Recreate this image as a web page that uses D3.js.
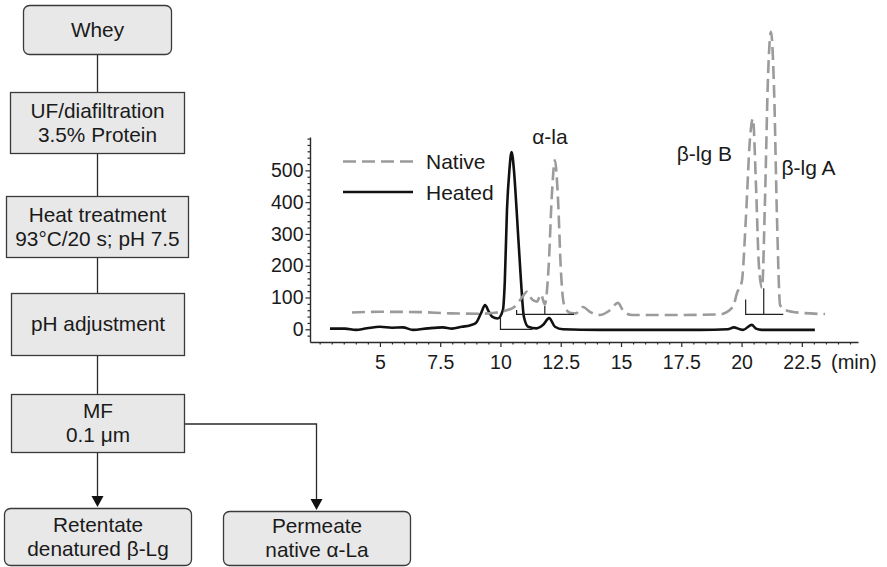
<!DOCTYPE html>
<html>
<head>
<meta charset="utf-8">
<script src="https://cdn.jsdelivr.net/npm/d3@7/dist/d3.min.js"></script>
<style>
  html, body { margin: 0; padding: 0; background: #fff; }
  svg { display: block; font-family: "Liberation Sans", Arial, Helvetica, sans-serif; }
</style>
</head>
<body>
<svg id="fig" width="887" height="567"></svg>
<script>
// ---- Chromatogram data (retention time in min, detector response) ----
const nativeTime = [3.84, 5.0, 6.66, 7.9, 9.15, 9.77, 10.18, 10.6, 10.89, 11.1, 11.3, 11.51, 11.68, 11.84,
  12.0, 12.13, 12.26, 12.38, 12.51, 12.63, 12.88, 13.13, 13.42, 13.71, 14.12, 14.54, 14.87, 15.12, 15.45,
  17.44, 19.1, 19.64, 19.81, 20.01, 20.18, 20.35, 20.47, 20.6, 20.72, 20.85, 20.97, 21.1, 21.22, 21.35,
  21.47, 21.6, 21.8, 22.42, 23.46];
const nativeSignal = [53, 55, 54, 50, 49, 52, 58, 72, 100, 118, 95, 87, 110, 78,
  200, 420, 532, 420, 180, 80, 52, 50, 70, 55, 45, 60, 83, 55, 45,
  45, 47, 70, 114, 150, 350, 600, 663, 450, 200, 130, 400, 800, 936, 750,
  350, 76, 61, 52, 48];

const heatedTime = [2.93, 3.55, 4.0, 4.46, 5.0, 5.5, 5.95, 6.37, 6.99, 7.61, 7.99, 8.4, 8.73, 8.98, 9.19,
  9.36, 9.52, 9.65, 9.89, 10.1, 10.18, 10.27, 10.37, 10.46, 10.56, 10.67, 10.84, 10.97, 11.15, 11.5,
  11.77, 12.02, 12.26, 12.59, 14.12, 18.27, 19.43, 19.68, 19.93, 20.06, 20.42, 20.6, 20.84, 23.04];
const heatedSignal = [2, 2, -2, 3, 8, 5, 6, -2, 3, 6, 2, 8, 12, 20, 50,
  76, 55, 40, 34, 60, 150, 375, 500, 558, 500, 375, 165, 40, 8, 3,
  14, 35, 8, 0, -2, -2, 0, 6, 0, -2, 14, 2, -2, -2];

// Peak integration brackets: [start, end, baseline, start-tick top, divider time, divider top]
const brackets = [
  [10.0, 11.33, 0, 40, null, null],
  [10.67, 13.05, 47, 61, 11.84, 73],
  [20.17, 21.73, 47, 94, 20.92, 129]
];

const xTickValues = [5, 7.5, 10, 12.5, 15, 17.5, 20, 22.5];
const xTickLabels = ["5", "7.5", "10", "12.5", "15", "17.5", "20", "22.5"];
const yTickValues = [0, 100, 200, 300, 400, 500];
const seriesNames = ["Native", "Heated"];
const peakNames = [["α-la", 12.05], ["β-lg B", 18.46], ["β-lg A", 22.78]];

// ---- Process flow steps ----
const flowSteps = [
  ["Whey"],
  ["UF/diafiltration", "3.5% Protein"],
  ["Heat treatment", "93°C/20 s; pH 7.5"],
  ["pH adjustment"],
  ["MF", "0.1 μm"]
];
const flowOutputs = [
  ["Retentate", "denatured β-Lg"],
  ["Permeate", "native α-La"]
];

const svg = d3.select("#fig");
const ink = "#2a2a2a";

// ---------- Flow diagram ----------
const flow = svg.append("g").attr("class", "flow");
const stepBoxes = [
  {x: 23, y: 5, w: 148, h: 49, r: 6},
  {x: 10, y: 92, w: 174, h: 61, r: 0},
  {x: 6, y: 196, w: 182, h: 61, r: 0},
  {x: 11, y: 293, w: 173, h: 62, r: 0},
  {x: 11, y: 394, w: 173, h: 58, r: 0}
];
const outBoxes = [
  {x: 4, y: 508, w: 187, h: 57, r: 6},
  {x: 223, y: 511, w: 187, h: 54, r: 6}
];
const lineGap = 24;

// connectors between consecutive steps
for (let i = 0; i < stepBoxes.length - 1; i++) {
  flow.append("line")
    .attr("x1", 97.5).attr("x2", 97.5)
    .attr("y1", stepBoxes[i].y + stepBoxes[i].h)
    .attr("y2", stepBoxes[i + 1].y)
    .attr("stroke", ink).attr("stroke-width", 1.3);
}
// MF outputs with arrowheads
const mf = stepBoxes[4];
flow.append("path")
  .attr("d", `M97.5,${mf.y + mf.h}V${outBoxes[0].y - 11}`)
  .attr("fill", "none").attr("stroke", ink).attr("stroke-width", 1.3);
flow.append("path")
  .attr("d", `M${mf.x + mf.w},424H316.5V${outBoxes[1].y - 11}`)
  .attr("fill", "none").attr("stroke", ink).attr("stroke-width", 1.3);
[[97.5, outBoxes[0].y], [316.5, outBoxes[1].y]].forEach(([ax, ay]) => {
  flow.append("path")
    .attr("d", `M${ax - 6},${ay - 12}L${ax + 6},${ay - 12}L${ax},${ay - 1}Z`)
    .attr("fill", "#111");
});

function drawBox(b, lines) {
  flow.append("rect")
    .attr("x", b.x + 0.5).attr("y", b.y + 0.5)
    .attr("width", b.w).attr("height", b.h)
    .attr("rx", b.r).attr("ry", b.r)
    .attr("fill", "#e8e8e8").attr("stroke", "#3a3a3a").attr("stroke-width", 1.3);
  const cx = b.x + b.w / 2 + 0.5, cy = b.y + b.h / 2;
  lines.forEach((t, i) => {
    flow.append("text")
      .attr("x", cx)
      .attr("y", cy + (i - (lines.length - 1) / 2) * lineGap)
      .attr("dy", "0.36em")
      .attr("text-anchor", "middle")
      .attr("font-size", 20.8)
      .attr("fill", "#1a1a1a")
      .text(t);
  });
}
flowSteps.forEach((s, i) => drawBox(stepBoxes[i], s));
flowOutputs.forEach((s, i) => drawBox(outBoxes[i], s));

// ---------- Chromatogram ----------
const x = d3.scaleLinear().domain([2.1, 24.83]).range([310, 858]);
const y = d3.scaleLinear().domain([-40, 605]).range([342, 137]);

const chart = svg.append("g").attr("class", "chart");

// x axis: major ticks + labels
const xAxis = d3.axisBottom(x)
  .tickValues(xTickValues)
  .tickFormat((d, i) => xTickLabels[i])
  .tickSize(5).tickPadding(8).tickSizeOuter(0);
chart.append("g").attr("transform", `translate(0,${y.range()[0]})`).call(xAxis);
// x minor ticks every 0.5 min
const xMinor = d3.range(2.5, 24.6, 0.5).filter(v => !xTickValues.some(t => Math.abs(t - v) < 1e-6));
chart.append("g").attr("transform", `translate(0,${y.range()[0]})`)
  .call(d3.axisBottom(x).tickValues(xMinor).tickFormat("").tickSize(2.5).tickSizeOuter(0))
  .call(g => g.select(".domain").remove());

// y axis: major ticks + labels
const yAxis = d3.axisLeft(y).tickValues(yTickValues).tickSize(4.5).tickPadding(2).tickSizeOuter(0);
chart.append("g").attr("transform", `translate(${x.range()[0]},0)`).call(yAxis);
const yMinor = d3.range(-20, 601, 20).filter(v => !yTickValues.includes(v));
chart.append("g").attr("transform", `translate(${x.range()[0]},0)`)
  .call(d3.axisLeft(y).tickValues(yMinor).tickFormat("").tickSize(2.5).tickSizeOuter(0))
  .call(g => g.select(".domain").remove());

chart.selectAll(".domain").attr("stroke", ink).attr("stroke-width", 1.4);
chart.selectAll(".tick line").attr("stroke", ink).attr("stroke-width", 1.2);
chart.selectAll(".tick text")
  .attr("font-size", 19.5).attr("fill", "#1a1a1a")
  .attr("font-family", "Liberation Sans, Arial, sans-serif");

chart.append("text")
  .attr("x", x.range()[1] - 27)
  .attr("y", y.range()[0] + 13)
  .attr("dy", "0.71em")
  .attr("font-size", 20).attr("fill", "#1a1a1a")
  .text("(min)");

// traces
const line = d3.line().x(d => x(d[0])).y(d => y(d[1])).curve(d3.curveMonotoneX);
const nativeData = nativeTime.map((t, i) => [t, nativeSignal[i]]);
const heatedData = heatedTime.map((t, i) => [t, heatedSignal[i]]);

chart.append("path").datum(heatedData)
  .attr("d", line).attr("fill", "none")
  .attr("stroke", "#111").attr("stroke-width", 2.6).attr("stroke-linejoin", "round");
chart.append("path").datum(nativeData)
  .attr("d", line).attr("fill", "none")
  .attr("stroke", "#9b9b9b").attr("stroke-width", 2.6)
  .attr("stroke-dasharray", "13,6");

// integration brackets
brackets.forEach(([t0, t1, base, top0, td, topd]) => {
  let d = `M${x(t0)},${y(top0)}V${y(base)}H${x(t1)}`;
  if (td !== null) d += `M${x(td)},${y(topd)}V${y(base)}`;
  chart.append("path").attr("d", d)
    .attr("fill", "none").attr("stroke", "#222").attr("stroke-width", 1.2);
});

// peak names
const peakY = [136, 153, 167];
peakNames.forEach(([name, t], i) => {
  chart.append("text")
    .attr("x", x(t)).attr("y", peakY[i]).attr("dy", "0.36em")
    .attr("text-anchor", "middle")
    .attr("font-size", 21).attr("fill", "#1a1a1a")
    .text(name);
});

// legend
const legend = chart.append("g");
const legendRows = [
  {name: seriesNames[0], yy: 161.5, stroke: "#9b9b9b", dash: "13,6"},
  {name: seriesNames[1], yy: 192, stroke: "#111", dash: null}
];
legendRows.forEach(r => {
  legend.append("line")
    .attr("x1", 343).attr("x2", 413).attr("y1", r.yy).attr("y2", r.yy)
    .attr("stroke", r.stroke).attr("stroke-width", 2.6)
    .attr("stroke-dasharray", r.dash);
  legend.append("text")
    .attr("x", 426).attr("y", r.yy).attr("dy", "0.36em")
    .attr("font-size", 21).attr("fill", "#1a1a1a")
    .text(r.name);
});
</script>
</body>
</html>
